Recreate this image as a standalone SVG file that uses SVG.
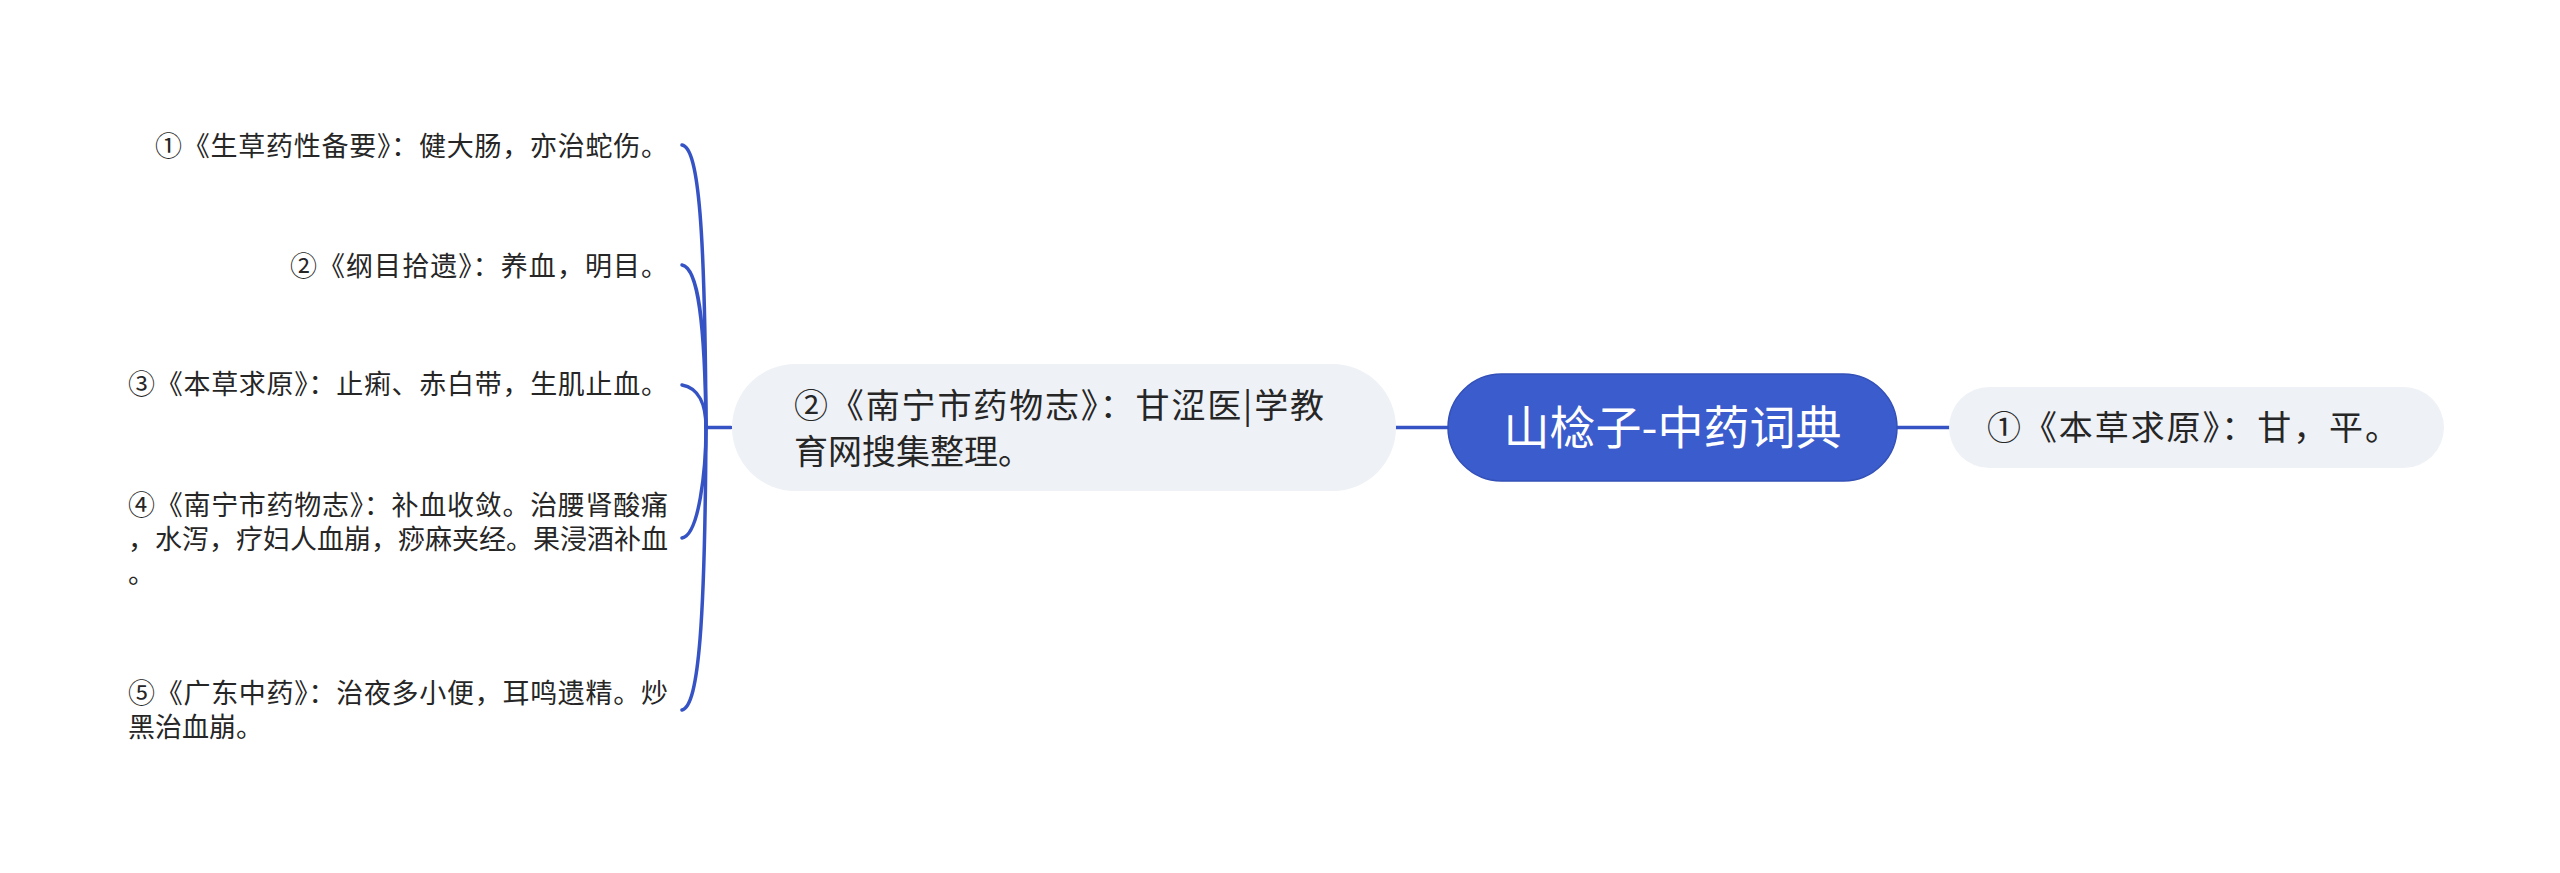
<svg xmlns="http://www.w3.org/2000/svg" width="2560" height="873" viewBox="0 0 2560 873">
<style>
.t{font-family:"Noto Sans CJK SC","Noto Sans",sans-serif;fill:#262626}
.leaf{font-size:27px}
.sub{fill:#eef1f5}
.ln{fill:none;stroke:#3553c4;stroke-width:3.5;stroke-linecap:round}
</style>
<rect width="2560" height="873" fill="#ffffff"/>
<g id="connectors">
<path class="ln" d="M1396 427.5 L1448 427.5"/>
<path class="ln" d="M1897 427.5 L1949 427.5"/>
<path class="ln" d="M706 427.5 L731 427.5"/>
<path class="ln" d="M682 145 C699 148 705 230 706 427.5"/>
<path class="ln" d="M682 265 C698 268 705 320 706 427.5"/>
<path class="ln" d="M682 385 C699 388 706 405 706 427.5"/>
<path class="ln" d="M682 538 C699 535 706 470 706 427.5"/>
<path class="ln" d="M682 710 C699 706 705 620 706 427.5"/>
</g>
<g id="root">
<rect x="1448" y="374" width="449" height="107" rx="53.5" fill="#3b5ccc" stroke="#3350b8" stroke-width="1.5"/>
<text class="t" x="1672.5" y="444" font-size="46" text-anchor="middle" style="fill:#ffffff">山棯子-中药词典</text>
</g>
<g id="right1">
<rect class="sub" x="1949" y="387" width="495" height="81" rx="40.5"/>
<text class="t" x="1987" y="440" font-size="34" textLength="412" lengthAdjust="spacing">①《本草求原》：甘，平。</text>
</g>
<g id="mid">
<rect class="sub" x="732" y="364" width="664" height="127" rx="63.5"/>
<text class="t" font-size="34"><tspan x="794" y="418" textLength="530" lengthAdjust="spacing">②《南宁市药物志》：甘涩医|学教</tspan><tspan x="794" y="464">育网搜集整理。</tspan></text>
</g>
<g id="leaf1"><text class="t leaf" x="668" y="156" text-anchor="end" textLength="513" lengthAdjust="spacing">①《生草药性备要》：健大肠，亦治蛇伤。</text></g>
<g id="leaf2"><text class="t leaf" x="668" y="276" text-anchor="end" textLength="378" lengthAdjust="spacing">②《纲目拾遗》：养血，明目。</text></g>
<g id="leaf3"><text class="t leaf" x="668" y="394" text-anchor="end" textLength="540" lengthAdjust="spacing">③《本草求原》：止痢、赤白带，生肌止血。</text></g>
<g id="leaf4"><text class="t leaf"><tspan x="128" y="515" textLength="540" lengthAdjust="spacing">④《南宁市药物志》：补血收敛。治腰肾酸痛</tspan><tspan x="128" y="549" textLength="540" lengthAdjust="spacing">，水泻，疗妇人血崩，痧麻夹经。果浸酒补血</tspan><tspan x="128" y="583">。</tspan></text></g>
<g id="leaf5"><text class="t leaf"><tspan x="128" y="703" textLength="540" lengthAdjust="spacing">⑤《广东中药》：治夜多小便，耳鸣遗精。炒</tspan><tspan x="128" y="737">黑治血崩。</tspan></text></g>
</svg>
